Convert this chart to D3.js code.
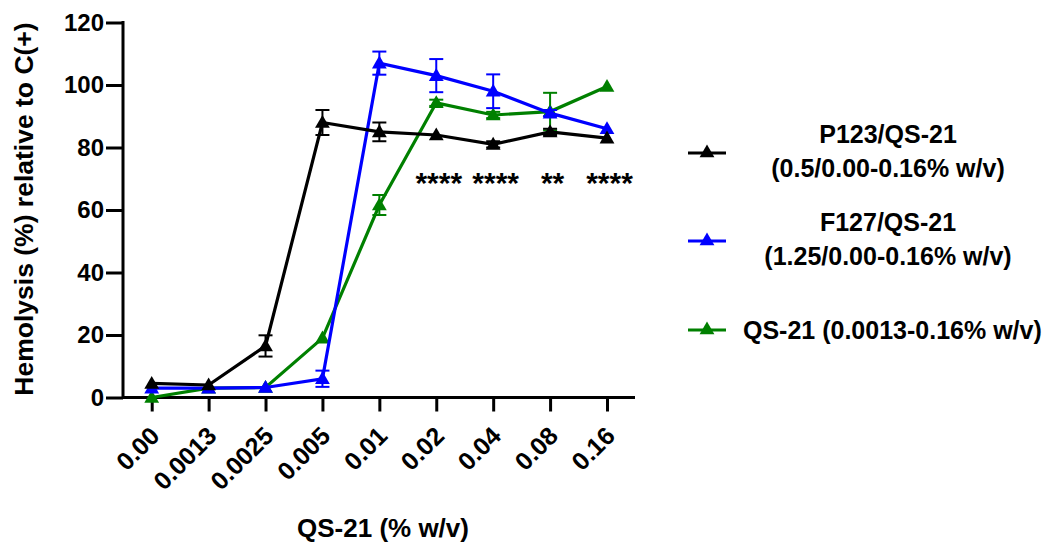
<!DOCTYPE html>
<html>
<head>
<meta charset="utf-8">
<script src="https://cdn.jsdelivr.net/npm/d3@7"></script>
<style>
	body { margin: 0; background: #fff; }
	svg text { font-family: "Liberation Sans", Arial, sans-serif; font-weight: bold; }
</style>
</head>
<body>
<div id="chart"></div>
<script>
// ---------- DATA ----------
const concentrations = ["0.00", "0.0013", "0.0025", "0.005", "0.01", "0.02", "0.04", "0.08", "0.16"];
const yTicks = [0, 20, 40, 60, 80, 100, 120];

const p123 = [4.5, 4, 16.5, 88, 85, 84, 81, 85, 83];
const p123Err = [0.5, 0.5, 3.4, 4, 3, 0.5, 1, 1, 0.5];
const f127 = [3, 3, 3.2, 6, 107, 103, 98, 91, 86];
const f127Err = [0.5, 0.5, 0.5, 2.6, 3.7, 5.3, 5.4, 1, 0.5];
const qs21 = [0, 3, 3.2, 19, 61.6, 94.3, 90.4, 91.5, 99.5];
const qs21Err = [0, 0.3, 0.3, 0.5, 3.2, 1, 1, 6, 0.5];

const stars = ["", "", "", "", "", "****", "****", "**", "****"];

const seriesNames = [
	["P123/QS-21", "(0.5/0.00-0.16% w/v)"],
	["F127/QS-21", "(1.25/0.00-0.16% w/v)"],
	["QS-21 (0.0013-0.16% w/v)"],
];
const colorDef = { black: "#000000", blue: "#0000ff", green: "#008000" };

// ---------- LAYOUT ----------
const size = { w: 1045, h: 545 };

const svg = d3
	.select("#chart")
	.append("svg")
	.attr("width", size.w)
	.attr("height", size.h);

const x = d3.scalePoint().domain(concentrations).range([151.7, 607]);
const y = d3.scaleLinear().domain([0, 120]).range([397.5, 22.5]);

const series = [
	{ key: "p123", values: p123, err: p123Err, color: colorDef.black },
	{ key: "f127", values: f127, err: f127Err, color: colorDef.blue },
	{ key: "qs21", values: qs21, err: qs21Err, color: colorDef.green },
];

// axes
const yAxis = svg
	.append("g")
	.attr("transform", "translate(123,0)")
	.call(d3.axisLeft(y).tickValues(yTicks).tickSize(17).tickPadding(2).tickSizeOuter(0));
yAxis.select(".domain").remove();
yAxis.selectAll("line").attr("stroke-width", 3);
yAxis.selectAll("text").attr("font-size", 24).attr("fill", "#000");
svg.append("line")
	.attr("x1", 123).attr("x2", 123)
	.attr("y1", y(120) - 1.5).attr("y2", y(0) + 1.5)
	.attr("stroke", "#000").attr("stroke-width", 3);

const xAxis = svg
	.append("g")
	.attr("transform", `translate(0,${y(0)})`)
	.call(d3.axisBottom(x).tickSize(14).tickSizeOuter(0));
xAxis.select(".domain").remove();
xAxis.selectAll("line").attr("stroke-width", 3);
xAxis
	.selectAll("text")
	.attr("font-size", 25)
	.attr("fill", "#000")
	.attr("text-anchor", "end")
	.attr("dy", null)
	.attr("y", 0)
	.attr("transform", "translate(9,40) rotate(-45)");
svg.append("line")
	.attr("x1", 123).attr("x2", 635)
	.attr("y1", y(0)).attr("y2", y(0))
	.attr("stroke", "#000").attr("stroke-width", 3);

// titles
svg.append("text")
	.attr("transform", `translate(33,209) rotate(-90)`)
	.attr("text-anchor", "middle")
	.attr("font-size", 26.5)
	.text("Hemolysis (%) relative to C(+)");

svg.append("text")
	.attr("x", 383)
	.attr("y", 537)
	.attr("text-anchor", "middle")
	.attr("font-size", 26)
	.text("QS-21 (% w/v)");

// series
const tri = d3.symbol().type(d3.symbolTriangle).size(95);
const cap = 7;

series.slice().reverse().forEach((s) => {
	const g = svg.append("g").classed(`series-${s.key}`, true);
	const pts = concentrations.map((c, i) => ({ c: c, v: s.values[i], e: s.err[i] }));

	g.append("path")
		.datum(pts)
		.attr("fill", "none")
		.attr("stroke", s.color)
		.attr("stroke-width", 3.2)
		.attr("d", d3.line().x((d) => x(d.c)).y((d) => y(d.v)));

	const eb = g.selectAll(".err").data(pts.filter((d) => d.e > 0.8)).enter().append("g");
	eb.append("line")
		.attr("x1", (d) => x(d.c)).attr("x2", (d) => x(d.c))
		.attr("y1", (d) => y(d.v - d.e)).attr("y2", (d) => y(d.v + d.e))
		.attr("stroke", s.color).attr("stroke-width", 2);
	eb.append("line")
		.attr("x1", (d) => x(d.c) - cap).attr("x2", (d) => x(d.c) + cap)
		.attr("y1", (d) => y(d.v + d.e)).attr("y2", (d) => y(d.v + d.e))
		.attr("stroke", s.color).attr("stroke-width", 2);
	eb.append("line")
		.attr("x1", (d) => x(d.c) - cap).attr("x2", (d) => x(d.c) + cap)
		.attr("y1", (d) => y(d.v - d.e)).attr("y2", (d) => y(d.v - d.e))
		.attr("stroke", s.color).attr("stroke-width", 2);

	g.selectAll(".pt")
		.data(pts)
		.enter()
		.append("path")
		.attr("d", tri)
		.attr("fill", s.color)
		.attr("transform", (d) => `translate(${x(d.c)},${y(d.v) + 1})`);
});

// significance stars
svg.append("g")
	.selectAll("text")
	.data(concentrations.map((c, i) => ({ c: c, s: stars[i] })).filter((d) => d.s))
	.enter()
	.append("text")
	.attr("x", (d) => x(d.c) + 2.5)
	.attr("y", y(65.5))
	.attr("text-anchor", "middle")
	.attr("font-size", 30)
	.text((d) => d.s);

// legend
const legendY = [153, 241, 330];
series.forEach((s, i) => {
	const lg = svg.append("g").attr("transform", `translate(0,${legendY[i]})`);
	lg.append("line")
		.attr("x1", 688).attr("x2", 726)
		.attr("stroke", s.color).attr("stroke-width", 3.2);
	lg.append("path").attr("d", tri).attr("fill", s.color).attr("transform", "translate(707,0)");
	const names = seriesNames[i];
	if (names.length === 2) {
		names.forEach((t, j) => {
			lg.append("text")
				.attr("x", 888)
				.attr("y", j === 0 ? -10 : 24)
				.attr("text-anchor", "middle")
				.attr("font-size", 25)
				.text(t);
		});
	} else {
		lg.append("text")
			.attr("x", 743)
			.attr("y", 9)
			.attr("font-size", 25)
			.text(names[0]);
	}
});
</script>
</body>
</html>
